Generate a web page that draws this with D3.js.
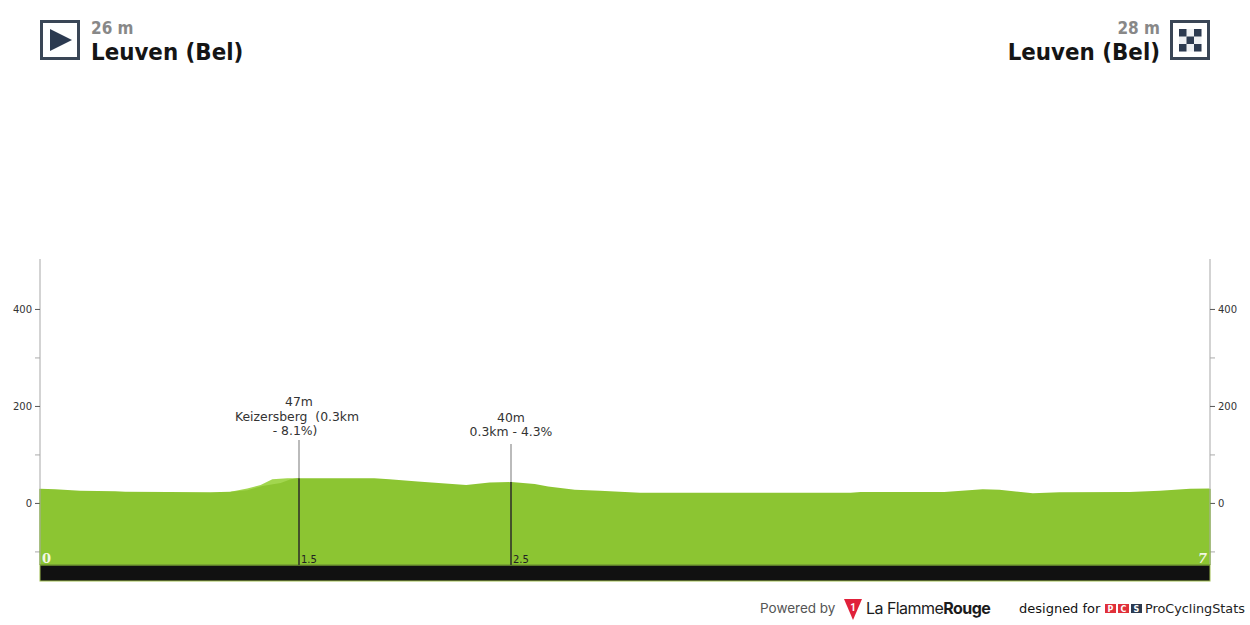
<!DOCTYPE html>
<html><head><meta charset="utf-8">
<script src="https://cdn.jsdelivr.net/npm/d3@7"></script>
<style>html,body{margin:0;padding:0;background:#fff}svg{display:block}text{font-family:"DejaVu Sans",sans-serif}</style>
</head><body><svg id="c" width="1250" height="625"></svg>
<script>
const km =        [0,.09,.24,.45,.51,1.02,1.14,1.24,1.33,1.44,1.50,1.54,2.0,2.09,2.26,2.55,2.69,2.82,2.96,3.04,3.2,3.35,3.59,4.85,4.91,5.41,5.64,5.74,5.94,6.1,6.52,6.7,6.88,7];
const elevation = [29,28,25,24,23,22,23,26,35,41,49,51,51,49,44,37,42,43,39,34,27,25,21,21,22.5,22.5,28,27,20,22,22.5,25,29,30];
const climbKm =   [1.14,1.24,1.32,1.39,1.48,1.55];
const climbElev = [23,30,37,49,51,51];
const yTicks = [-100,0,100,200,300,400];
const yLabels = [0,200,400];
const markerKm = [1.55,2.82];
const markerElev = [51,43];
const markerTicks = ["1.5","2.5"];
const markerTop = [440,444];
const labelBase = [435,436];
const markerText = [["47m","Keizersberg  (0.3km ","- 8.1%)  "],["40m","0.3km - 4.3%"]];
const startName="Leuven (Bel)", startAlt="26 m", endName="Leuven (Bel)", endAlt="28 m";

const svg=d3.select("#c");
const x=d3.scaleLinear().domain([0,7]).range([40,1210]);
const y=d3.scaleLinear().domain([-128,503]).range([565,259]);
const area=d3.area().x(d=>x(d[0])).y0(y(-128)).y1(d=>y(d[1])).curve(d3.curveLinear);

// climb highlight beneath, main profile above
svg.append("path").attr("d",area(d3.zip(climbKm,climbElev))).attr("fill","#a2d64f");
svg.append("path").attr("d",area(d3.zip(km,elevation))).attr("fill","#8cc532");

// axes
[[d3.axisLeft,40],[d3.axisRight,1210]].forEach(([ax,px])=>{
  const g=svg.append("g").attr("transform",`translate(${px},0)`)
   .call(ax(y).tickValues(yTicks).tickSize(5).tickPadding(3).tickFormat(d=>yLabels.includes(d)?d:""));
  g.select(".domain").attr("stroke","#c8c8c8").attr("stroke-width",1.6).attr("d",`M0,${y(503)}V${y(-128)}`);
  g.selectAll(".tick line").attr("stroke",d=>yLabels.includes(d)?"#555":"#aaa").attr("stroke-width",1);
  g.selectAll(".tick text").attr("fill","#333").style("font-size","10px").style("font-family","DejaVu Sans");
});

// base band
svg.append("rect").attr("x",x(0)).attr("y",y(-128)).attr("width",x(7)-x(0)).attr("height",16)
   .attr("fill","#111").attr("stroke","#9dbb4d").attr("stroke-width",1);
svg.append("line").attr("x1",x(0)).attr("x2",x(7)).attr("y1",y(-128)).attr("y2",y(-128)).attr("stroke","#5f8a25").attr("stroke-width",1.2);
[0,7].forEach(k=>svg.append("line").attr("x1",x(k)).attr("x2",x(k)).attr("y1",y(29)).attr("y2",y(-128)).attr("stroke","#7aa82e").attr("stroke-width",1));

// markers
markerKm.forEach((k,i)=>{
  const px=Math.round(x(k));
  svg.append("line").attr("x1",px).attr("x2",px).attr("y1",markerTop[i]).attr("y2",y(markerElev[i])).attr("stroke","#bbb").attr("stroke-width",2);
  svg.append("line").attr("x1",px).attr("x2",px).attr("y1",y(markerElev[i])).attr("y2",y(-128)).attr("stroke","#44522a").attr("stroke-width",2);
  svg.append("text").attr("x",px+2).attr("y",563).attr("fill","#222").style("font-size","10px").text(markerTicks[i]);
  const t=markerText[i];
  t.forEach((s,j)=>svg.append("text").attr("x",px).attr("y",labelBase[i]-(t.length-1-j)*14.5).attr("text-anchor","middle")
     .attr("fill","#333").style("font-size","12.4px").style("white-space","pre").text(s));
});

// distance ends
svg.append("text").attr("x",42).attr("y",563).attr("fill","#f2f7e4").style("font-family","DejaVu Serif").style("font-weight","bold").style("font-size","13px").text("0");
svg.append("text").attr("x",1207).attr("y",563).attr("text-anchor","end").attr("fill","#f2f7e4").style("font-family","DejaVu Serif").style("font-weight","bold").style("font-style","italic").style("font-size","13px").text("7");

// header
const navy="#2c3a50";
svg.append("rect").attr("x",41.5).attr("y",21.5).attr("width",37).attr("height",37).attr("fill","#fff").attr("stroke","#3a4656").attr("stroke-width",3);
svg.append("path").attr("d","M50,29L72,40L50,51Z").attr("fill",navy);
svg.append("rect").attr("x",1171.5).attr("y",21.5).attr("width",37).attr("height",37).attr("fill","#fff").attr("stroke","#3a4656").attr("stroke-width",3);
svg.append("rect").attr("x",1179).attr("y",29).attr("width",22.5).attr("height",22.5).attr("fill","#eef0f3");
const checks=[[0,0],[2,0],[1,1],[0,2],[2,2]];
checks.forEach(c=>svg.append("rect").attr("x",1179+c[0]*7.5).attr("y",29+c[1]*7.5).attr("width",7.5).attr("height",7.5).attr("fill",navy));
const head=(px,py,anchor,fill,size,s)=>svg.append("text").attr("x",px).attr("y",py).attr("text-anchor",anchor).attr("fill",fill)
  .style("font-family","DejaVu Sans").style("font-stretch","condensed").style("font-weight","bold").style("font-size",size+"px").text(s);
head(91,34.3,"start","#888",17,startAlt);
head(91,60.4,"start","#151515",23.8,startName);
head(1160,34.3,"end","#888",17,endAlt);
head(1160,60.4,"end","#151515",23.8,endName);

// footer
svg.append("text").attr("x",760).attr("y",613).attr("fill","#555").style("font-family","Inter").style("font-size","13.5px").text("Powered by");
svg.append("path").attr("d","M844,599H862L853,620Z").attr("fill","#e0213a");
svg.append("text").attr("x",853).attr("y",611).attr("text-anchor","middle").attr("fill","#fff").style("font-family","Roboto").style("font-weight","bold").style("font-size","10px").text("1");
const lf=svg.append("text").attr("x",866).attr("y",614).attr("fill","#1b1b1b").style("font-family","Inter").style("font-size","16px").style("letter-spacing","-0.55px");
lf.append("tspan").text("La Flamme");
lf.append("tspan").style("font-weight","bold").text("Rouge");
svg.append("text").attr("x",1019).attr("y",613).attr("fill","#111").style("font-size","13px").style("font-weight","500").text("designed for");
const pcs=[["P","#e0303a",1105],["C","#e0303a",1118],["S","#2c3a50",1131]];
pcs.forEach(p=>{
  svg.append("rect").attr("x",p[2]).attr("y",604).attr("width",11).attr("height",9).attr("fill",p[1]);
  svg.append("text").attr("x",p[2]+5.5).attr("y",612).attr("text-anchor","middle").attr("fill","#fff").style("font-size","8px").style("font-weight","bold").text(p[0]);
});
svg.append("text").attr("x",1145).attr("y",613).attr("fill","#222").style("font-size","12.8px").text("ProCyclingStats");
</script></body></html>
